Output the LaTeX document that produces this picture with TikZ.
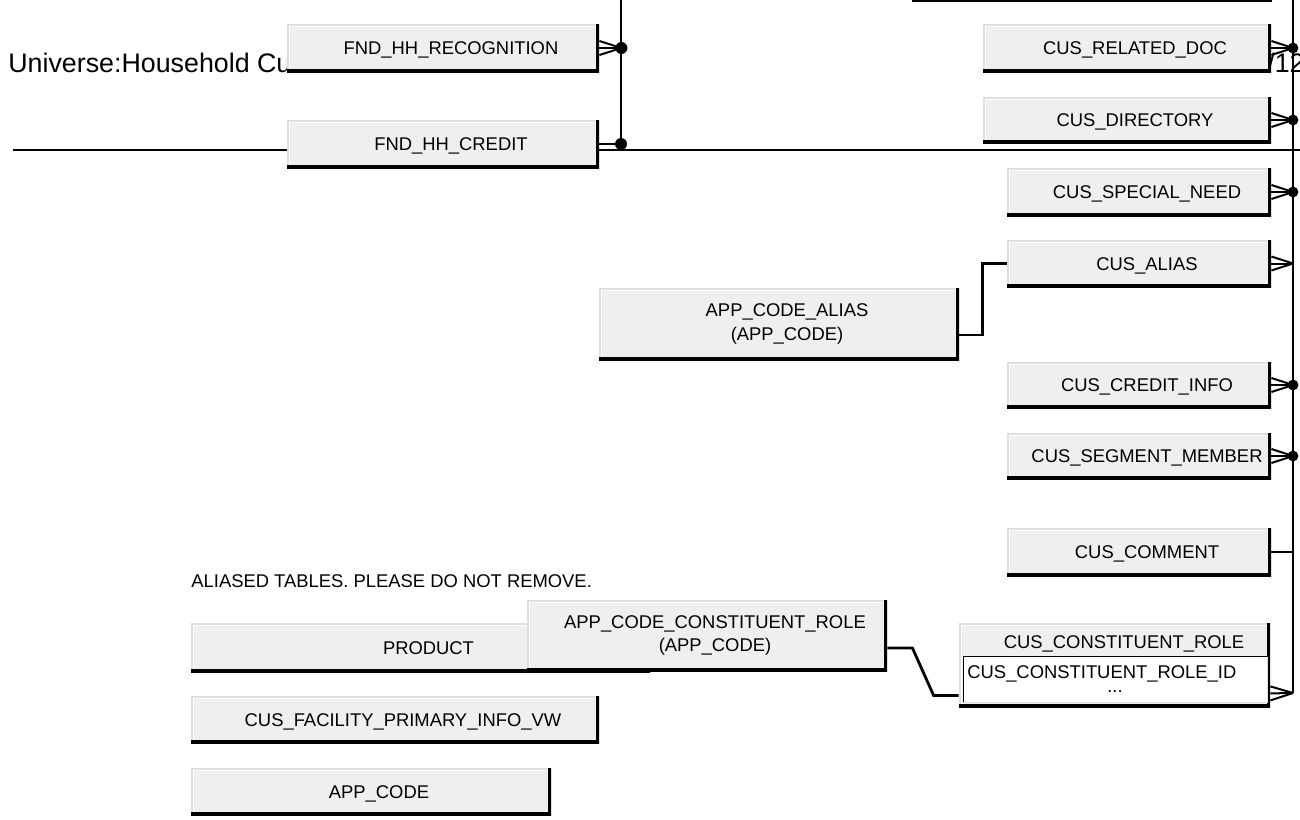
\documentclass[tikz,border=0pt]{standalone}
\usepackage{fontspec}
\setmainfont{Liberation Sans}
\usetikzlibrary{fit,calc}
\definecolor{boxfill}{RGB}{239,239,239}
\definecolor{edgelight}{RGB}{222,222,222}
\newcommand\crowfoot[2]{%
  \draw[prong] (#1) -- (#2);
  \draw[prong] ([yshift=3.5pt]#1) -- (#2);
  \draw[prong] ([yshift=-3.5pt]#1) -- (#2);}
\begin{document}
\begin{tikzpicture}[x=0.5pt,y=-0.5pt,
  tbox/.style={rectangle, inner sep=0pt, fill=boxfill,
    path picture={
      \draw[edgelight, line width=1.6pt] (path picture bounding box.south west) -- (path picture bounding box.north west) -- (path picture bounding box.north east);
      \draw[white, line width=0.8pt] ([xshift=1.2pt,yshift=1pt]path picture bounding box.south west) -- ([xshift=1.2pt,yshift=-1.2pt]path picture bounding box.north west) -- ([xshift=-1pt,yshift=-1.2pt]path picture bounding box.north east);
      \draw[black, line width=2.6pt] (path picture bounding box.south west) -- (path picture bounding box.south east) -- (path picture bounding box.north east);
    }},
  txt/.style={font=\fontsize{9.2}{11.5}\selectfont, inner sep=0pt},
  tlabel/.style={txt, xshift=4pt, text height=6.6pt, text depth=0pt},
  tlabel2/.style={txt, xshift=4pt, align=center, font=\fontsize{9.2}{11.8}\selectfont},
  titletxt/.style={font=\fontsize{13.4}{15}\selectfont, inner sep=0pt},
  mainline/.style={line width=1.4pt},
  conn/.style={line width=1.4pt},
  prong/.style={line width=1pt},
  dotmark/.style={fill=black}
]
\useasboundingbox (0,0) rectangle (1300,819);
\clip (0,0) rectangle (1300,819);

% header texts
\node[titletxt, anchor=base west] (title) at (8,72) {Universe:Household Customer};
\node[titletxt, anchor=base east] (date) at (1305,72) {5/3/12};
\node[txt, anchor=base west] (note) at (191,587) {ALIASED TABLES. PLEASE DO NOT REMOVE.};

% long lines
\coordinate (tl0) at (912,1); \coordinate (tl1) at (1272,1);
\draw[line width=1.2pt] (tl0) -- (tl1);
\coordinate (hl0) at (13,150); \coordinate (hl1) at (1300,150);
\draw[mainline] (hl0) -- (hl1);
\coordinate (lv0) at (621,0); \coordinate (lv1) at (621,144);
\draw[mainline] (lv0) -- (lv1);
\coordinate (rv0) at (1293,0); \coordinate (rv1) at (1293,693);
\draw[mainline] (rv0) -- (rv1);

% boxes
\node[tbox, fit={(287,24) (599,72)}, label={[tlabel]center:FND\_HH\_RECOGNITION}] (frec) {};
\node[tbox, fit={(287,120) (599,168)}, label={[tlabel]center:FND\_HH\_CREDIT}] (fcred) {};
\node[tbox, fit={(983,24) (1271,72)}, label={[tlabel]center:CUS\_RELATED\_DOC}] (crel) {};
\node[tbox, fit={(983,97) (1271,143)}, label={[tlabel]center:CUS\_DIRECTORY}] (cdir) {};
\node[tbox, fit={(1007,168) (1271,216)}, label={[tlabel]center:CUS\_SPECIAL\_NEED}] (cspec) {};
\node[tbox, fit={(1007,240) (1271,287)}, label={[tlabel]center:CUS\_ALIAS}] (calias) {};
\node[tbox, fit={(599,288) (959,360)}, label={[tlabel2]center:{APP\_CODE\_ALIAS\\(APP\_CODE)}}] (aca) {};
\node[tbox, fit={(1007,362) (1271,408)}, label={[tlabel]center:CUS\_CREDIT\_INFO}] (ccred) {};
\node[tbox, fit={(1007,433) (1271,479)}, label={[tlabel]center:CUS\_SEGMENT\_MEMBER}] (cseg) {};
\node[tbox, fit={(1007,528) (1271,576)}, label={[tlabel]center:CUS\_COMMENT}] (ccom) {};
\node[tbox, fit={(959,623) (1270,707)}] (crole) {};
\node[txt, text height=6.6pt, text depth=0pt] (croletitle) at (1124,642) {CUS\_CONSTITUENT\_ROLE};
\node[fit={(964,657) (1267,702)}, inner sep=0pt, fill=white] (croleid) {};
\draw[edgelight, line width=0.8pt] (croleid.south west) -- (croleid.south east) -- (croleid.north east);
\draw[black, line width=0.8pt] (croleid.south west) -- (croleid.north west) -- (croleid.north east);
\node[txt, anchor=west, text height=6.6pt, text depth=0pt] (roleidtxt) at (967,672) {CUS\_CONSTITUENT\_ROLE\_ID};
\node[txt, anchor=base] (roledots) at (1115,692) {...};
\node[tbox, fit={(191,623) (650,672)}, label={[tlabel]center:PRODUCT}] (prod) {};
\node[tbox, fit={(527,600) (887,671)}, label={[tlabel2]center:{APP\_CODE\_CONSTITUENT\_ROLE\\(APP\_CODE)}}] (acr) {};
\node[tbox, fit={(191,696) (599,743)}, label={[tlabel]center:CUS\_FACILITY\_PRIMARY\_INFO\_VW}] (cfac) {};
\node[tbox, fit={(191,768) (551,815)}, label={[tlabel]center:APP\_CODE}] (app) {};

% left connectors
\coordinate (frecj) at ($(frec.east)+(22,0)$);
\crowfoot{frec.east}{frecj}
\fill[dotmark] (frecj) circle[radius=3pt];
\draw[conn] (fcred.east) -- (lv1);
\fill[dotmark] (lv1) circle[radius=3pt];

% right column connectors
\foreach \n in {crel,cdir,cspec,ccred,cseg}{
  \coordinate (\n j) at (rv0 |- \n.east);
  \crowfoot{\n.east}{\n j}
  \fill[dotmark] (\n j) circle[radius=2.7pt];
}
\coordinate (caliasj) at (rv0 |- calias.east);
\crowfoot{calias.east}{caliasj}
\draw[conn] (ccom.east) -- (rv0 |- ccom.east);
\coordinate (crolep) at ([yshift=7pt]crole.south east);
\crowfoot{crolep}{rv1}

% alias connectors
\coordinate (acaout) at ([yshift=-5.5pt]aca.east);
\draw[conn] (acaout) -| ($(calias.west)+(-24,0)$) -- (calias.west);
\coordinate (acrout) at ([yshift=-6.25pt]acr.east);
\coordinate (crolein) at ([yshift=6pt]crole.south west);
\draw[conn] (acrout) -- ++(25,0) -- ($(crolein)+(-25,0)$) -- (crolein);
\end{tikzpicture}
\end{document}
